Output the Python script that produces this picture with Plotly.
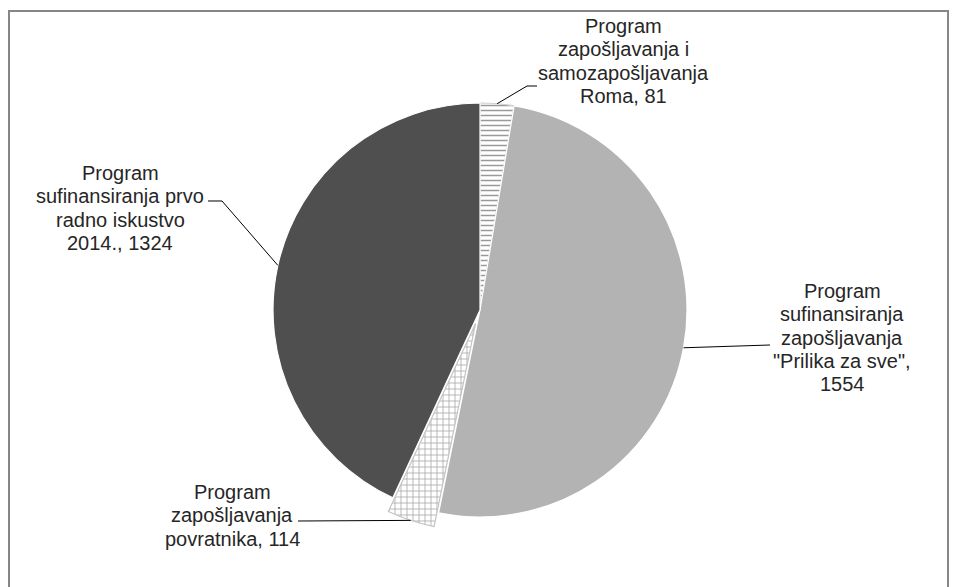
import math
import plotly.graph_objects as go

# ---- data ----
labels = [
    "Program zapošljavanja i samozapošljavanja Roma",
    "Program sufinansiranja zapošljavanja \"Prilika za sve\"",
    "Program zapošljavanja povratnika",
    "Program sufinansiranja prvo radno iskustvo 2014.",
]
values = [81, 1554, 114, 1324]
label_lines = [
    ["Program", "zapošljavanja i", "samozapošljavanja", "Roma, 81"],
    ["Program", "sufinansiranja", "zapošljavanja", "\"Prilika za sve\",", "1554"],
    ["Program", "zapošljavanja", "povratnika, 114"],
    ["Program", "sufinansiranja prvo", "radno iskustvo", "2014., 1324"],
]
pulls = [0, 0, 0.07, 0]

# ---- layout geometry (page pixels; the plot div sits 8px in from the page corner) ----
W, H = 957, 587
OFF = 8
CX, CY, R = 480, 310, 207
maxpull = max(pulls)
half = R * (1 + maxpull)

def px(x):
    return (x - OFF) / W

def py(y):
    return 1 - (y - OFF) / H

# label text centres (first line y) and line spacing
label_pos = [(623, 26), (842, 291), (232, 492), (120, 173)]
line_h = 23.3
# leader-line elbows near the text (pixel points)
elbows = [
    [(537, 86), (527, 86)],
    [(770, 345)],
    [(298, 521)],
    [(208, 201), (222, 201)],
]

fig = go.Figure()
fig.add_trace(go.Pie(
    labels=labels,
    values=values,
    sort=False,
    direction="clockwise",
    rotation=0,
    pull=pulls,
    textinfo="none",
    hoverinfo="label+value",
    showlegend=False,
    marker=dict(
        colors=["#ffffff", "#b3b3b3", "#ffffff", "#4f4f4f"],
        line=dict(color=["#d0d0d0", "#ffffff", "#c4c4c4", "#ffffff"], width=1.2),
        pattern=dict(
            shape=["-", "", "+", ""],
            fgcolor=["#9a9a9a", "#b3b3b3", "#a8a8a8", "#4f4f4f"],
            bgcolor=["#ffffff", "#b3b3b3", "#ffffff", "#4f4f4f"],
            size=[5, 8, 6, 8],
            solidity=[0.3, 0.3, 0.25, 0.3],
        ),
    ),
    domain=dict(
        x=[px(CX - half), px(CX + half)],
        y=[py(CY + half), py(CY - half)],
    ),
))

shapes = []
annotations = []
total = sum(values)
cum = 0
for i, v in enumerate(values):
    mid = (cum + v / 2) / total * 2 * math.pi
    cum += v
    r = R * (1 + pulls[i])
    ex = CX + r * math.sin(mid)
    ey = CY - r * math.cos(mid)
    pts = elbows[i] + [(ex, ey)]
    path = "M " + " L ".join(f"{px(x):.5f},{py(y):.5f}" for x, y in pts)
    shapes.append(dict(type="path", xref="paper", yref="paper", path=path,
                       line=dict(color="#000000", width=1)))
    lx, ly = label_pos[i]
    for k, t in enumerate(label_lines[i]):
        annotations.append(dict(
            x=px(lx), y=py(ly + k * line_h), xref="paper", yref="paper",
            text=t, showarrow=False, xanchor="center", yanchor="middle",
            font=dict(family="Liberation Sans, Arial", size=20, color="#262626"),
        ))

# chart border
shapes.append(dict(type="rect", xref="paper", yref="paper",
                   x0=px(9), x1=px(948), y0=py(11), y1=py(640),
                   line=dict(color="#868686", width=2), fillcolor="rgba(0,0,0,0)"))

fig.update_layout(
    width=W, height=H,
    margin=dict(l=0, r=0, t=0, b=0),
    paper_bgcolor="#ffffff",
    plot_bgcolor="#ffffff",
    shapes=shapes,
    annotations=annotations,
)

fig.write_html("out.html")
